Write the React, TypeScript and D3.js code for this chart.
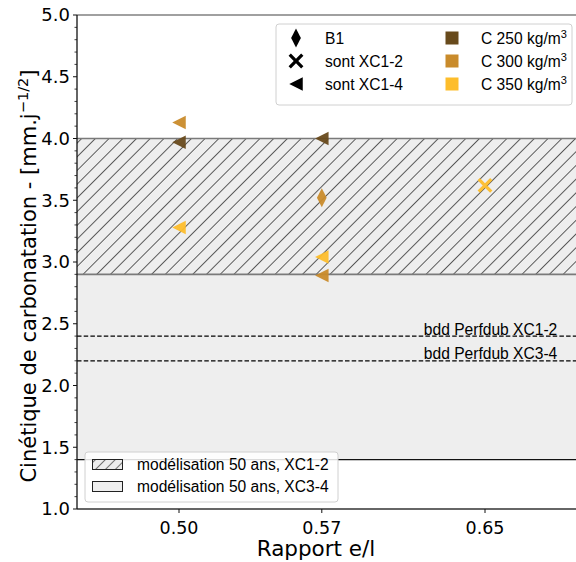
import React from "react";
import * as d3 from "d3";

// ---- data ----
const xTickValues = [0.5, 0.57, 0.65];
const xTickLabels = ["0.50", "0.57", "0.65"];
const yTickValues = [1.0, 1.5, 2.0, 2.5, 3.0, 3.5, 4.0, 4.5, 5.0];

const pointRapport = [0.5, 0.5, 0.5, 0.57, 0.57, 0.57, 0.57, 0.65];
const pointCinetique = [3.97, 4.13, 3.28, 4.0, 3.52, 3.04, 2.89, 3.62];
const pointCiment = [250, 300, 350, 250, 300, 350, 300, 350];
const pointType = ["XC1-4", "XC1-4", "XC1-4", "XC1-4", "B1", "XC1-4", "XC1-4", "XC1-2"];

const cimentValues = [250, 300, 350];
const cimentColors = ["#684a1c", "#c98b2b", "#fdbd2b"];
const typeKeys = ["B1", "XC1-2", "XC1-4"];
const typeLabels = ["B1", "sont XC1-2", "sont XC1-4"];

const zoneXC12 = [2.9, 4.0];
const zoneXC34 = [1.4, 2.9];
const zoneLabels = ["modélisation 50 ans, XC1-2", "modélisation 50 ans, XC3-4"];

const perfdubValues = [2.4, 2.2];
const perfdubLabels = ["bdd Perfdub XC1-2", "bdd Perfdub XC3-4"];
const perfdubLabelX = 0.62;

const FONT = "'Liberation Sans', Arial, Helvetica, sans-serif";
const AXFONT = "'DejaVu Sans', sans-serif";

function markerPath(type: string, s: number) {
  if (type === "B1") {
    const w = s * 0.36, h = s * 0.7;
    return `M0,${-h}L${w},0L0,${h}L${-w},0Z`;
  }
  if (type === "XC1-4") {
    const r = s * 0.5;
    return `M${-r},0L${r},${-r}L${r},${r}Z`;
  }
  // filled X
  const r = s * 0.55, t = s * 0.17;
  const pts = [
    [-r + t, -r], [0, -t], [r - t, -r], [r, -r + t], [t, 0], [r, r - t],
    [r - t, r], [0, t], [-r + t, r], [-r, r - t], [-t, 0], [-r, -r + t],
  ];
  return "M" + pts.map((p) => p.join(",")).join("L") + "Z";
}

export default function App() {
  const W = 576, H = 562;
  const left = 77, top = 15, bottom = 509;
  const x = d3.scaleLinear().domain([0.45, 0.7]).range([left, left + 510]);
  const y = d3.scaleLinear().domain([1.0, 5.0]).range([bottom, top]);
  const right = W + 20;
  const colorOf = d3.scaleOrdinal<number, string>().domain(cimentValues).range(cimentColors);
  const minorTicks = d3.range(10, 51).map((v) => v / 10).filter((v) => Math.round(v * 10) % 5 !== 0);

  return (
    <svg width={W} height={H} style={{ position: "absolute", left: 0, top: 0, background: "#fff" }} fontFamily={FONT}>
      <defs>
        <pattern id="hatch" patternUnits="userSpaceOnUse" width={9.7} height={9.7} patternTransform="rotate(45)">
          <rect width={9.7} height={9.7} fill="#eeeeee" />
          <line x1={0} y1={0} x2={0} y2={9.7} stroke="#2a2a2a" strokeWidth={1.5} />
        </pattern>
        <pattern id="hatchLeg" patternUnits="userSpaceOnUse" width={7} height={7} patternTransform="rotate(45)">
          <rect width={7} height={7} fill="#eeeeee" />
          <line x1={0} y1={0} x2={0} y2={7} stroke="#222" strokeWidth={1.2} />
        </pattern>
      </defs>

      {/* zones */}
      <rect x={left} y={y(zoneXC34[1])} width={right - left} height={y(zoneXC34[0]) - y(zoneXC34[1])} fill="#eeeeee" />
      <line x1={left} x2={right} y1={y(zoneXC34[0])} y2={y(zoneXC34[0])} stroke="#111" strokeWidth={1.2} />
      <rect x={left} y={y(zoneXC12[1])} width={right - left} height={y(zoneXC12[0]) - y(zoneXC12[1])} fill="url(#hatch)" />
      <line x1={left} x2={right} y1={y(zoneXC12[1])} y2={y(zoneXC12[1])} stroke="#7a7a7a" strokeWidth={1.6} />
      <line x1={left} x2={right} y1={y(zoneXC12[0])} y2={y(zoneXC12[0])} stroke="#7a7a7a" strokeWidth={1.6} />

      {/* perfdub lines */}
      {perfdubValues.map((v, i) => (
        <g key={i}>
          <line x1={left} x2={right} y1={y(v)} y2={y(v)} stroke="#000" strokeWidth={1.3} strokeDasharray="4.5,2.2" />
          <text x={x(perfdubLabelX)} y={y(v) - 1.5} fontSize={15.6} fill="#000">{perfdubLabels[i]}</text>
        </g>
      ))}

      {/* points */}
      {pointRapport.map((r, i) => (
        <path
          key={i}
          d={markerPath(pointType[i], 13.5)}
          transform={`translate(${x(r)},${y(pointCinetique[i])})`}
          fill={colorOf(pointCiment[i])}
          fillOpacity={0.95}
        />
      ))}

      {/* spines */}
      <line x1={left} x2={right} y1={top} y2={top} stroke="#808080" strokeWidth={1.3} />
      <line x1={left} x2={right} y1={bottom} y2={bottom} stroke="#333" strokeWidth={1.3} />
      <line x1={left} x2={left} y1={top} y2={bottom} stroke="#111" strokeWidth={1.3} />

      {/* y ticks */}
      {yTickValues.map((v) => (
        <g key={v}>
          <line x1={left - 4} x2={left} y1={y(v)} y2={y(v)} stroke="#111" strokeWidth={1} />
          <text x={left - 7} y={y(v)} dy="0.36em" textAnchor="end" fontSize={18} fontFamily={AXFONT} fill="#000">{d3.format(".1f")(v)}</text>
        </g>
      ))}
      {minorTicks.map((v) => (
        <line key={v} x1={left - 2.5} x2={left} y1={y(v)} y2={y(v)} stroke="#111" strokeWidth={0.8} />
      ))}

      {/* x ticks */}
      {xTickValues.map((v, i) => (
        <g key={v}>
          <line x1={x(v)} x2={x(v)} y1={bottom} y2={bottom + 4} stroke="#111" strokeWidth={1} />
          <text x={x(v)} y={bottom + 24.5} textAnchor="middle" fontSize={17.5} fontFamily={AXFONT} fill="#000">{xTickLabels[i]}</text>
        </g>
      ))}

      {/* axis labels */}
      <text x={316} y={556} textAnchor="middle" fontSize={21.5} fontFamily={AXFONT} fill="#000">Rapport e/l</text>
      <text transform={`translate(36,276) rotate(-90)`} textAnchor="middle" fontSize={21} fontFamily={AXFONT} fill="#000">
        Cinétique de carbonatation - [mm.j
        <tspan dy={-8.5} fontSize={14.6}>−1/2</tspan>
        <tspan dy={8.5}>]</tspan>
      </text>

      {/* top-right legend */}
      <rect x={276} y={24} width={296} height={81} rx={3} fill="#fff" fillOpacity={0.9} stroke="#d0d0d0" strokeWidth={1} />
      {typeKeys.map((k, i) => (
        <g key={k}>
          <path d={markerPath(k, 13.5)} transform={`translate(296,${38 + i * 23})`} fill="#000" />
          <text x={325} y={38 + i * 23} dy="0.36em" fontSize={15.6} fill="#000">{typeLabels[i]}</text>
        </g>
      ))}
      {cimentValues.map((c, i) => (
        <g key={c}>
          <rect x={452 - 6.5} y={38 + i * 23 - 6.5} width={13} height={13} fill={cimentColors[i]} />
          <text x={481} y={38 + i * 23} dy="0.36em" fontSize={15.6} fill="#000">
            C {c} kg/m<tspan dy={-6} fontSize={11}>3</tspan>
          </text>
        </g>
      ))}

      {/* bottom-left legend */}
      <rect x={85} y={452} width={253} height={50} rx={3} fill="#fff" fillOpacity={0.85} stroke="#d0d0d0" strokeWidth={1} />
      <rect x={92.5} y={459.5} width={30} height={10} fill="url(#hatchLeg)" stroke="#222" strokeWidth={1} />
      <text x={137} y={464.5} dy="0.36em" fontSize={15.6} fill="#000">{zoneLabels[0]}</text>
      <rect x={92.5} y={481.5} width={30} height={10} fill="#eeeeee" stroke="#222" strokeWidth={1} />
      <text x={137} y={486.5} dy="0.36em" fontSize={15.6} fill="#000">{zoneLabels[1]}</text>
    </svg>
  );
}
